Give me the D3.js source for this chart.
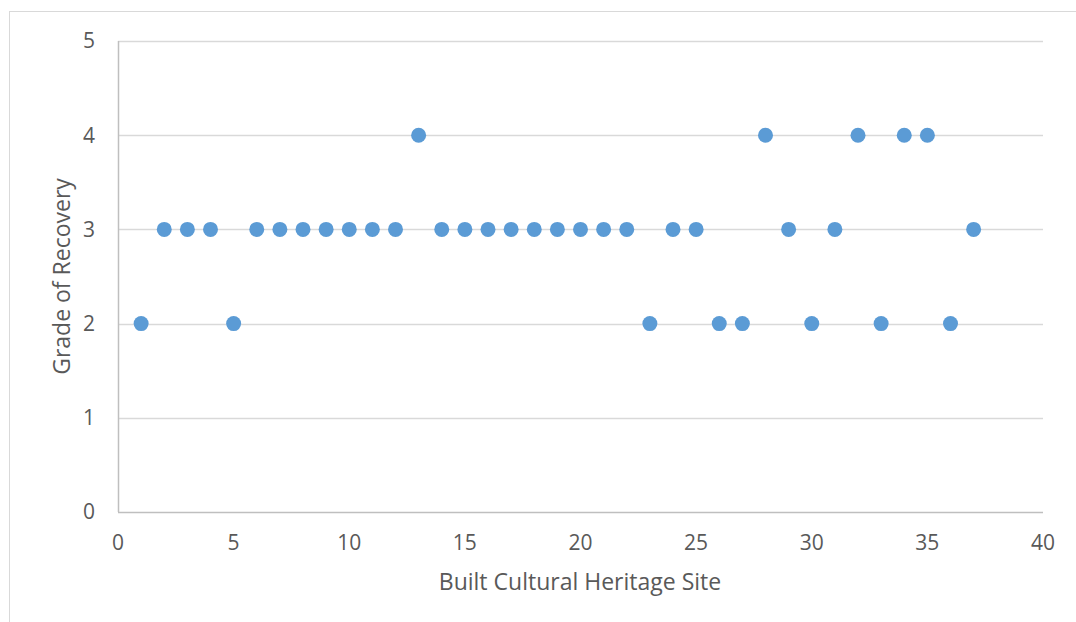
<!DOCTYPE html>
<html>
<head>
<meta charset="utf-8">
<script src="https://cdn.jsdelivr.net/npm/d3@7"></script>
<style>
  html, body { margin: 0; padding: 0; background: #fff; }
  svg { display: block; font-family: "Open Sans", "Liberation Sans", sans-serif; }
</style>
</head>
<body>
<svg id="chart" width="1076" height="622"></svg>
<script>
// Site numbers and their recovery grades
const sites = [1,2,3,4,5,6,7,8,9,10,11,12,13,14,15,16,17,18,19,20,21,22,23,24,25,26,27,28,29,30,31,32,33,34,35,36,37];
const grades = [2,3,3,3,2,3,3,3,3,3,3,3,4,3,3,3,3,3,3,3,3,3,2,3,3,2,2,4,3,2,3,4,2,4,4,2,3];
const xTicks = [0,5,10,15,20,25,30,35,40];
const yTicks = [0,1,2,3,4,5];

const svg = d3.select("#chart");
const W = 1076, H = 622;
const plot = { left: 118, right: 1043, top: 41, bottom: 512 };

// Outer chart frame
svg.append("rect")
  .attr("x", 9.5).attr("y", 11.5)
  .attr("width", W + 10).attr("height", H + 10)
  .attr("fill", "#fff").attr("stroke", "#d9d9d9").attr("stroke-width", 1);

const x = d3.scaleLinear().domain([0, 40]).range([plot.left, plot.right]);
const y = d3.scaleLinear().domain([0, 5]).range([plot.bottom, plot.top]);

// Horizontal gridlines
svg.append("g")
  .selectAll("line")
  .data(yTicks.filter(d => d > 0))
  .join("line")
  .attr("x1", plot.left).attr("x2", plot.right)
  .attr("y1", d => Math.round(y(d)) + 0.5).attr("y2", d => Math.round(y(d)) + 0.5)
  .attr("stroke", "#d9d9d9").attr("stroke-width", 1.5);

// Axis lines
svg.append("line")
  .attr("x1", plot.left + 0.5).attr("x2", plot.left + 0.5)
  .attr("y1", plot.top).attr("y2", plot.bottom)
  .attr("stroke", "#bfbfbf").attr("stroke-width", 1.5);
svg.append("line")
  .attr("x1", plot.left).attr("x2", plot.right)
  .attr("y1", plot.bottom + 0.5).attr("y2", plot.bottom + 0.5)
  .attr("stroke", "#bfbfbf").attr("stroke-width", 1.5);

// Tick labels
svg.append("g")
  .selectAll("text")
  .data(yTicks)
  .join("text")
  .attr("x", 95).attr("y", d => y(d))
  .attr("dy", "0.35em")
  .attr("text-anchor", "end")
  .attr("font-size", 21).attr("fill", "#595959")
  .text(d => d);

svg.append("g")
  .selectAll("text")
  .data(xTicks)
  .join("text")
  .attr("x", d => x(d)).attr("y", 543)
  .attr("dy", "0.35em")
  .attr("text-anchor", "middle")
  .attr("font-size", 21).attr("fill", "#595959")
  .text(d => d);

// Axis titles
svg.append("text")
  .attr("x", 580).attr("y", 582)
  .attr("dy", "0.35em")
  .attr("text-anchor", "middle")
  .attr("font-size", 23).attr("fill", "#595959")
  .text("Built Cultural Heritage Site");

svg.append("text")
  .attr("transform", `translate(62,${(plot.top + plot.bottom) / 2}) rotate(-90)`)
  .attr("dy", "0.35em")
  .attr("text-anchor", "middle")
  .attr("font-size", 23).attr("fill", "#595959")
  .text("Grade of Recovery");

// Data points
svg.append("g")
  .selectAll("circle")
  .data(sites.map((s, i) => ({ s, g: grades[i] })))
  .join("circle")
  .attr("cx", d => x(d.s))
  .attr("cy", d => y(d.g))
  .attr("r", 7.5)
  .attr("fill", "#5b9bd5");
</script>
</body>
</html>
